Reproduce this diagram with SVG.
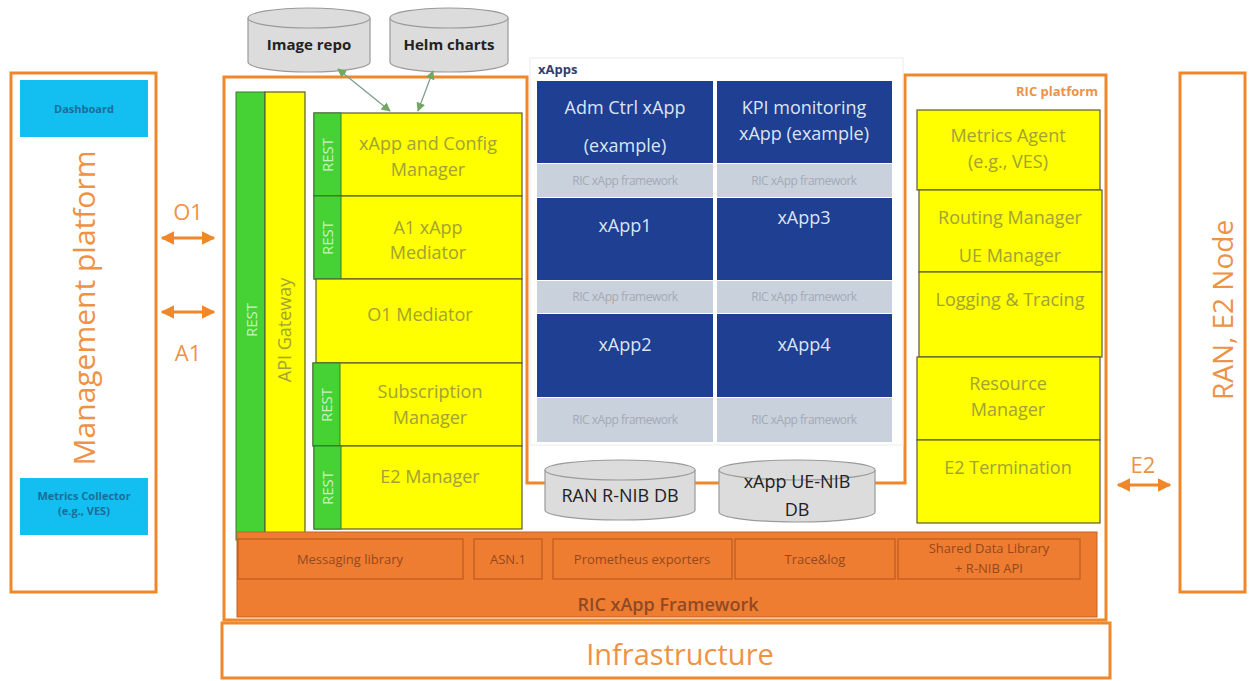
<svg xmlns="http://www.w3.org/2000/svg" width="1250" height="681" viewBox="0 0 1250 681">
  <defs>
    <style>
      .frame { fill: none; stroke: #F0882A; stroke-width: 3; }
      .orangeTxt { fill: #EE9245; font-family: "Open Sans", "Noto Sans", sans-serif; }
      .yel { fill: #FFFF00; stroke: #5A5A3A; stroke-width: 1.2; }
      .yelTxt { fill: #A2A235; font-family: "Open Sans", "Noto Sans", sans-serif; font-size: 18px; text-anchor: middle; }
      .grn { fill: #46D134; stroke: #3A7A30; stroke-width: 1; }
      .grnTxt { fill: #C9F2C0; font-family: "Open Sans", "Noto Sans", sans-serif; font-size: 15px; text-anchor: middle; }
      .blue { fill: #1F3F92; }
      .blueTxt { fill: #DCE4F4; font-family: "Open Sans", "Noto Sans", sans-serif; font-size: 18px; text-anchor: middle; }
      .fw { fill: #C9D1DC; }
      .fwTxt { fill: #A3AAB6; font-family: "Open Sans", "Noto Sans", sans-serif; font-size: 12px; text-anchor: middle; letter-spacing: -0.5px; }
      .cyl { fill: #DCDCDC; stroke: #9A9A9A; stroke-width: 1.2; }
      .cylTxt { fill: #222; font-family: "Open Sans", "Noto Sans", sans-serif; text-anchor: middle; }
      .lib { fill: none; stroke: #B2561E; stroke-width: 1; }
      .libTxt { fill: #96481C; font-family: "Open Sans", "Noto Sans", sans-serif; font-size: 13px; text-anchor: middle; }
      .cyan { fill: #12BFF0; }
      .cyanTxt { fill: #1A6E9A; font-family: "Open Sans", "Noto Sans", sans-serif; font-size: 11px; font-weight: bold; text-anchor: middle; }
      .ifArrow { stroke: #F0882A; stroke-width: 3; fill: none; marker-start: url(#oHead); marker-end: url(#oHead); }
      .gArrow { stroke: #7E9E8A; stroke-width: 1.3; fill: none; marker-start: url(#gHead); marker-end: url(#gHead); }
    </style>
    <marker id="oHead" viewBox="0 0 10 10" refX="9" refY="5" markerWidth="4.5" markerHeight="4.5" orient="auto-start-reverse" markerUnits="strokeWidth">
      <path d="M0,0 L10,5 L0,10 Z" fill="#F0882A"/>
    </marker>
    <marker id="gHead" viewBox="0 0 10 10" refX="9" refY="5" markerWidth="7" markerHeight="7" orient="auto-start-reverse" markerUnits="strokeWidth">
      <path d="M0,0 L10,5 L0,10 Z" fill="#6FA860"/>
    </marker>
  </defs>

  <rect width="1250" height="681" fill="#FFFFFF"/>

  <!-- Management platform -->
  <g id="management-platform">
    <rect class="frame" x="11" y="73" width="145" height="519"/>
    <text class="orangeTxt" font-size="30" text-anchor="middle" transform="translate(95,308) rotate(-90)">Management platform</text>
  </g>
  <g id="dashboard">
    <rect class="cyan" x="20" y="80" width="128" height="57"/>
    <text class="cyanTxt" x="84" y="113">Dashboard</text>
  </g>
  <g id="metrics-collector">
    <rect class="cyan" x="20" y="478" width="128" height="57"/>
    <text class="cyanTxt" x="84" y="500">Metrics Collector</text>
    <text class="cyanTxt" x="84" y="515">(e.g., VES)</text>
  </g>

  <!-- RIC platform outline, cut around the xApps area -->
  <g id="ric-platform">
    <path class="frame" d="M224,77 L527,77 L527,483 L905,483 L905,75 L1106,75 L1106,620 L224,620 Z"/>
    <text class="orangeTxt" x="1098" y="96" font-size="13" font-weight="bold" text-anchor="end" fill="#EE8A3A">RIC platform</text>
  </g>

  <!-- Infrastructure -->
  <g id="infrastructure">
    <rect class="frame" x="222" y="623" width="888" height="55"/>
    <text class="orangeTxt" x="680" y="665" font-size="29" text-anchor="middle">Infrastructure</text>
  </g>

  <!-- RAN / E2 node -->
  <g id="ran-e2-node">
    <rect class="frame" x="1180" y="73" width="65" height="519"/>
    <text class="orangeTxt" font-size="28" text-anchor="middle" transform="translate(1233,310) rotate(-90)">RAN, E2 Node</text>
  </g>

  <!-- Repositories -->
  <g id="image-repo">
    <path class="cyl" d="M248,18 L248,62 A61,10 0 0 0 370,62 L370,18"/>
    <ellipse class="cyl" cx="309" cy="18" rx="61" ry="10"/>
    <text class="cylTxt" x="309" y="50" font-size="15" font-weight="bold">Image repo</text>
  </g>
  <g id="helm-charts">
    <path class="cyl" d="M390,18 L390,62 A59,10 0 0 0 508,62 L508,18"/>
    <ellipse class="cyl" cx="449" cy="18" rx="59" ry="10"/>
    <text class="cylTxt" x="449" y="50" font-size="15" font-weight="bold">Helm charts</text>
  </g>

  <!-- API gateway column -->
  <g id="rest-gateway">
    <rect class="grn" x="236" y="92" width="29" height="448"/>
    <text class="grnTxt" transform="translate(257,320) rotate(-90)">REST</text>
  </g>
  <g id="api-gateway">
    <rect class="yel" x="265" y="92" width="40" height="448"/>
    <text class="yelTxt" font-size="16" transform="translate(291,330) rotate(-90)">API Gateway</text>
  </g>

  <!-- Platform components (left) -->
  <g id="xapp-config-manager">
    <rect class="yel" x="314" y="113" width="208" height="83"/>
    <rect class="grn" x="314" y="113" width="27" height="83"/>
    <text class="grnTxt" transform="translate(333,155) rotate(-90)">REST</text>
    <text class="yelTxt" x="428" y="150">xApp and Config</text>
    <text class="yelTxt" x="428" y="176">Manager</text>
  </g>
  <g id="a1-mediator">
    <rect class="yel" x="314" y="196" width="208" height="83"/>
    <rect class="grn" x="314" y="196" width="27" height="83"/>
    <text class="grnTxt" transform="translate(333,238) rotate(-90)">REST</text>
    <text class="yelTxt" x="428" y="234">A1 xApp</text>
    <text class="yelTxt" x="428" y="259">Mediator</text>
  </g>
  <g id="o1-mediator">
    <rect class="yel" x="316" y="279" width="206" height="84"/>
    <text class="yelTxt" x="420" y="321">O1 Mediator</text>
  </g>
  <g id="subscription-manager">
    <rect class="yel" x="313" y="363" width="209" height="83"/>
    <rect class="grn" x="313" y="363" width="27" height="83"/>
    <text class="grnTxt" transform="translate(332,405) rotate(-90)">REST</text>
    <text class="yelTxt" x="430" y="398">Subscription</text>
    <text class="yelTxt" x="430" y="424">Manager</text>
  </g>
  <g id="e2-manager">
    <rect class="yel" x="314" y="446" width="208" height="83"/>
    <rect class="grn" x="314" y="446" width="27" height="83"/>
    <text class="grnTxt" transform="translate(333,488) rotate(-90)">REST</text>
    <text class="yelTxt" x="430" y="483">E2 Manager</text>
  </g>

  <!-- xApps area -->
  <g id="xapps">
    <rect x="530" y="58" width="373" height="387" fill="#FFFFFF" stroke="#ECECEC" stroke-width="1"/>
    <text x="538" y="74" font-family="Open Sans, Noto Sans, sans-serif" font-size="13" font-weight="bold" fill="#2E3E6E">xApps</text>
  </g>
  <g id="adm-ctrl-xapp">
    <rect class="blue" x="537" y="81" width="176" height="82"/>
    <text class="blueTxt" x="625" y="114">Adm Ctrl xApp</text>
    <text class="blueTxt" x="625" y="152">(example)</text>
    <rect class="fw" x="537" y="164" width="176" height="33"/>
    <text class="fwTxt" x="625" y="185">RIC xApp framework</text>
  </g>
  <g id="kpi-monitoring-xapp">
    <rect class="blue" x="717" y="81" width="175" height="82"/>
    <text class="blueTxt" x="804" y="114">KPI monitoring</text>
    <text class="blueTxt" x="804" y="140">xApp (example)</text>
    <rect class="fw" x="717" y="164" width="175" height="33"/>
    <text class="fwTxt" x="804" y="185">RIC xApp framework</text>
  </g>
  <g id="xapp1">
    <rect class="blue" x="537" y="198" width="176" height="82"/>
    <text class="blueTxt" x="625" y="232">xApp1</text>
    <rect class="fw" x="537" y="281" width="176" height="32"/>
    <text class="fwTxt" x="625" y="301">RIC xApp framework</text>
  </g>
  <g id="xapp3">
    <rect class="blue" x="717" y="198" width="175" height="82"/>
    <text class="blueTxt" x="804" y="224">xApp3</text>
    <rect class="fw" x="717" y="281" width="175" height="32"/>
    <text class="fwTxt" x="804" y="301">RIC xApp framework</text>
  </g>
  <g id="xapp2">
    <rect class="blue" x="537" y="314" width="176" height="83"/>
    <text class="blueTxt" x="625" y="351">xApp2</text>
    <rect class="fw" x="537" y="398" width="176" height="44"/>
    <text class="fwTxt" x="625" y="424">RIC xApp framework</text>
  </g>
  <g id="xapp4">
    <rect class="blue" x="717" y="314" width="175" height="83"/>
    <text class="blueTxt" x="804" y="351">xApp4</text>
    <rect class="fw" x="717" y="398" width="175" height="44"/>
    <text class="fwTxt" x="804" y="424">RIC xApp framework</text>
  </g>

  <!-- Databases -->
  <g id="ran-rnib-db">
    <path class="cyl" d="M545,470 L545,510 A75,10 0 0 0 695,510 L695,470"/>
    <ellipse class="cyl" cx="620" cy="470" rx="75" ry="10"/>
    <text class="cylTxt" x="620" y="502" font-size="18">RAN R-NIB DB</text>
  </g>
  <g id="xapp-uenib-db">
    <path class="cyl" d="M719,470 L719,512 A78,10 0 0 0 875,512 L875,470"/>
    <ellipse class="cyl" cx="797" cy="470" rx="78" ry="10"/>
    <text class="cylTxt" x="797" y="488" font-size="18">xApp UE-NIB</text>
    <text class="cylTxt" x="797" y="516" font-size="18">DB</text>
  </g>

  <!-- Platform components (right) -->
  <g id="metrics-agent">
    <rect class="yel" x="917" y="110" width="183" height="80"/>
    <text class="yelTxt" x="1008" y="142">Metrics Agent</text>
    <text class="yelTxt" x="1008" y="168">(e.g., VES)</text>
  </g>
  <g id="routing-ue-manager">
    <rect class="yel" x="919" y="190" width="183" height="82"/>
    <text class="yelTxt" x="1010" y="224">Routing Manager</text>
    <text class="yelTxt" x="1010" y="262">UE Manager</text>
  </g>
  <g id="logging-tracing">
    <rect class="yel" x="919" y="272" width="183" height="85"/>
    <text class="yelTxt" x="1010" y="306">Logging &amp; Tracing</text>
  </g>
  <g id="resource-manager">
    <rect class="yel" x="917" y="357" width="183" height="83"/>
    <text class="yelTxt" x="1008" y="390">Resource</text>
    <text class="yelTxt" x="1008" y="416">Manager</text>
  </g>
  <g id="e2-termination">
    <rect class="yel" x="917" y="440" width="183" height="83"/>
    <text class="yelTxt" x="1008" y="474">E2 Termination</text>
  </g>

  <!-- RIC xApp framework libraries -->
  <g id="ric-xapp-framework">
    <rect x="237" y="532" width="860" height="85" fill="#EE7D31" stroke="#C0652A" stroke-width="1"/>
    <text x="668" y="611" font-family="Open Sans, Noto Sans, sans-serif" font-size="18" font-weight="600" text-anchor="middle" fill="#8E4A24">RIC xApp Framework</text>
  </g>
  <g id="messaging-library">
    <rect class="lib" x="238" y="539" width="225" height="40"/>
    <text class="libTxt" x="350" y="564">Messaging library</text>
  </g>
  <g id="asn1">
    <rect class="lib" x="474" y="539" width="68" height="40"/>
    <text class="libTxt" x="508" y="564">ASN.1</text>
  </g>
  <g id="prometheus-exporters">
    <rect class="lib" x="553" y="539" width="179" height="40"/>
    <text class="libTxt" x="642" y="564">Prometheus exporters</text>
  </g>
  <g id="trace-log">
    <rect class="lib" x="735" y="539" width="160" height="40"/>
    <text class="libTxt" x="815" y="564">Trace&amp;log</text>
  </g>
  <g id="shared-data-library">
    <rect class="lib" x="898" y="539" width="182" height="40"/>
    <text class="libTxt" x="989" y="553">Shared Data Library</text>
    <text class="libTxt" x="989" y="573">+ R-NIB API</text>
  </g>

  <!-- Connectors -->
  <g id="connectors">
    <line class="ifArrow" x1="162" y1="238" x2="214" y2="238"/>
    <line class="ifArrow" x1="162" y1="312" x2="214" y2="312"/>
    <line class="ifArrow" x1="1118" y1="485" x2="1170" y2="485"/>
    <line class="gArrow" x1="338" y1="69" x2="390" y2="111"/>
    <line class="gArrow" x1="433" y1="71" x2="418" y2="111"/>
    <text class="orangeTxt" x="188" y="220" font-size="22" text-anchor="middle">O1</text>
    <text class="orangeTxt" x="188" y="361" font-size="22" text-anchor="middle">A1</text>
    <text class="orangeTxt" x="1143" y="473" font-size="22" text-anchor="middle">E2</text>
  </g>
</svg>
